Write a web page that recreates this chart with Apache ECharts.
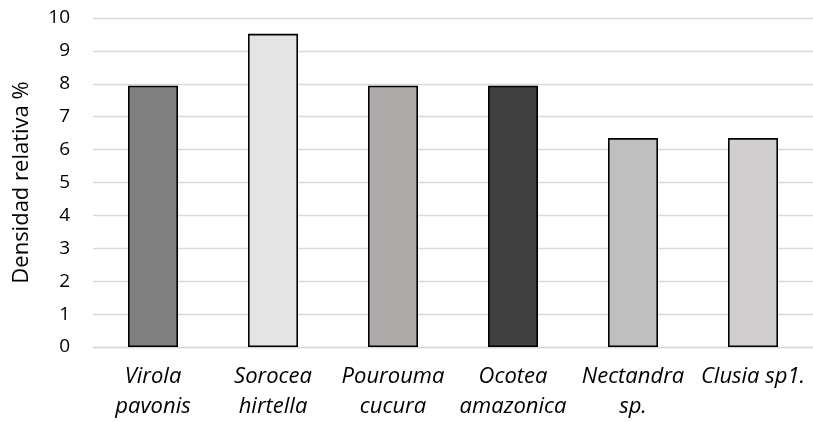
<!DOCTYPE html>
<html>
<head>
<meta charset="utf-8">
<script src="https://cdn.jsdelivr.net/npm/echarts@6/dist/echarts.min.js"></script>
<style>
  html, body { margin: 0; padding: 0; background: #ffffff; }
  #chart { width: 813px; height: 422px; }
</style>
</head>
<body>
<div id="chart"></div>
<script>
// Species (two-line labels) and their relative density
const species = ['Virola\npavonis', 'Sorocea\nhirtella', 'Pourouma\ncucura', 'Ocotea\namazonica', 'Nectandra\nsp.', 'Clusia sp1.'];
const densidad = [7.94, 9.52, 7.94, 7.94, 6.35, 6.35];
const barColors = ['#808080', '#e5e5e5', '#aeaaaa', '#404040', '#bfbfbf', '#d0cece'];
const yTicks = [0, 1, 2, 3, 4, 5, 6, 7, 8, 9, 10];

const FONT = '"Open Sans", sans-serif';

const chart = echarts.init(document.getElementById('chart'), null, { renderer: 'canvas' });
chart.setOption({
  animation: false,
  backgroundColor: '#ffffff',
  grid: { left: 93, top: 18, width: 728, height: 330, containLabel: false },
  xAxis: {
    type: 'category',
    data: species,
    axisTick: { show: false },
    axisLine: { show: true, lineStyle: { color: '#d9d9d9', width: 1.3 } },
    axisLabel: {
      interval: 0,
      margin: 15,
      fontFamily: FONT,
      fontSize: 22,
      fontStyle: 'italic',
      color: '#000000',
      lineHeight: 30
    }
  },
  yAxis: {
    type: 'value',
    min: yTicks[0],
    max: yTicks[yTicks.length - 1],
    interval: 1,
    name: 'Densidad relativa %',
    nameLocation: 'middle',
    nameGap: 60,
    nameTextStyle: { fontFamily: FONT, fontSize: 22, color: '#000000' },
    axisLine: { show: false },
    axisTick: { show: false },
    axisLabel: { margin: 23, fontFamily: FONT, fontSize: 19, color: '#000000' },
    splitLine: { lineStyle: { color: '#d9d9d9', width: 1.3 } }
  },
  series: [{
    type: 'bar',
    barWidth: 50,
    data: densidad.map((v, i) => ({
      value: v,
      itemStyle: { color: barColors[i], borderColor: '#000000', borderWidth: 1.6 }
    }))
  }]
});
</script>
</body>
</html>
